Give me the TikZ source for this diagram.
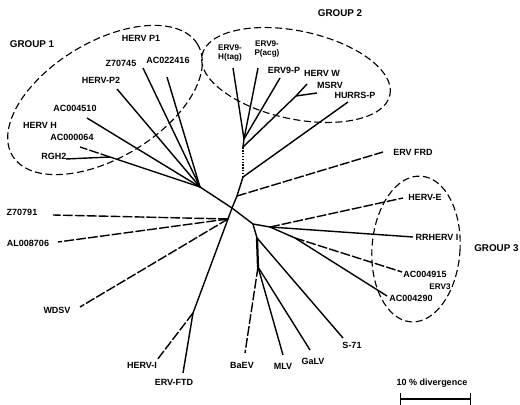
\documentclass[tikz,border=0pt]{standalone}
\usepackage{fontspec}
\setmainfont{Liberation Sans}
\usetikzlibrary{shapes.geometric}
\newcommand{\unitpx}{0.025cm}
\tikzset{
    branch/.style={line width=1pt},
    brokenbranch/.style={line width=1pt, dash pattern=on 7pt off 1.5pt},
    leaf/.style={inner sep=0pt, font=\fontsize{6.4}{7}\selectfont\bfseries},
    smallleaf/.style={inner sep=0pt, align=center, font=\fontsize{5.8}{6.2}\selectfont\bfseries},
    grouplabel/.style={inner sep=0pt, font=\fontsize{7}{8}\selectfont\bfseries},
    groupring/.style={ellipse, draw, line width=0.8pt, dash pattern=on 5pt off 2.5pt}
}

\begin{document}
\begin{tikzpicture}[x=\unitpx, y=-\unitpx]
\useasboundingbox (0,0) rectangle (520,405);

% the three groups
\node[groupring, minimum width=5.4cm, minimum height=2.9cm, rotate=31] (ring1) at (105,100) {};
\node[groupring, minimum width=4.8cm, minimum height=2.2cm, rotate=-12] (ring2) at (296,75) {};
\node[groupring, minimum width=2.2cm, minimum height=3.65cm, rotate=-4] (ring3) at (416,249) {};

\node[grouplabel] (grp1) at (32,44) {GROUP 1};
\node[grouplabel] (grp2) at (340,13) {GROUP 2};
\node[grouplabel, anchor=west] (grp3) at (474,248) {GROUP 3};

% inner points of the tree
\coordinate (root) at (232,208);
\coordinate (g1) at (200,187);
\coordinate (g1a) at (110,157);
\coordinate (t0) at (237,196);
\coordinate (t1) at (243,177);
\coordinate (t2) at (243,147);
\coordinate (t3) at (244,139);
\coordinate (t2a) at (296,96);
\coordinate (rb) at (253,224);
\coordinate (g3) at (270,227);
\coordinate (g3a) at (295,238);
\coordinate (m1) at (257,238);
\coordinate (m2) at (258,267);
\coordinate (lc) at (228,219);
\coordinate (lf) at (193,313);

% tips
\coordinate (tip-z70745) at (143,68);
\coordinate (tip-ac022416) at (167,77);
\coordinate (tip-hervp2) at (117,89);
\coordinate (tip-ac004510) at (87,118);
\coordinate (tip-ac000064) at (80,147);
\coordinate (tip-rgh2) at (66,159);
\coordinate (tip-frd) at (383,152);
\coordinate (tip-hurrs) at (348,102);
\coordinate (tip-hervw) at (307,84);
\coordinate (tip-msrv) at (317,93);
\coordinate (tip-erv9p) at (280,78);
\coordinate (tip-erv9acg) at (258,68);
\coordinate (tip-erv9tag) at (233,68);
\coordinate (tip-herve) at (403,198);
\coordinate (tip-rrherv) at (413,237);
\coordinate (tip-ac004915) at (402,272);
\coordinate (tip-ac004290) at (387,296);
\coordinate (tip-s71) at (343,338);
\coordinate (tip-baev) at (245,353);
\coordinate (tip-mlv) at (283,355);
\coordinate (tip-galv) at (310,350);
\coordinate (tip-z70791) at (53,215);
\coordinate (tip-al008706) at (58,242);
\coordinate (tip-wdsv) at (80,307);
\coordinate (tip-hervi) at (157,360);
\coordinate (tip-ervftd) at (183,373);

% labels
\node[leaf] (hervp1) at (141,38) {HERV P1};
\node[leaf] (z70745) at (121,63) {Z70745};
\node[leaf] (ac022416) at (168,60) {AC022416};
\node[leaf] (hervp2) at (101,80) {HERV-P2};
\node[leaf] (ac004510) at (75,108) {AC004510};
\node[leaf] (hervh) at (40,125) {HERV H};
\node[leaf] (ac000064) at (72,137) {AC000064};
\node[leaf] (rgh2) at (54,156) {RGH2};
\node[smallleaf] (erv9tag) at (230,53) {ERV9-\\H(tag)};
\node[smallleaf] (erv9acg) at (267,49) {ERV9-\\P(acg)};
\node[leaf] (erv9p) at (284,70) {ERV9-P};
\node[leaf] (hervw) at (322,73) {HERV W};
\node[leaf] (msrv) at (330,85) {MSRV};
\node[leaf] (hurrs) at (355,95) {HURRS-P};
\node[leaf] (frd) at (413,152) {ERV FRD};
\node[leaf] (herve) at (425,197) {HERV-E};
\node[leaf] (rrherv) at (437,237) {RRHERV I};
\node[leaf] (ac004915) at (425,274) {AC004915};
\node[smallleaf] (erv3) at (440,287) {ERV3};
\node[leaf] (ac004290) at (411,298) {AC004290};
\node[leaf] (z70791) at (22,212) {Z70791};
\node[leaf] (al008706) at (28,243) {AL008706};
\node[leaf] (wdsv) at (57,310) {WDSV};
\node[leaf] (hervi) at (142,365) {HERV-I};
\node[leaf] (ervftd) at (174,382) {ERV-FTD};
\node[leaf] (baev) at (242,365) {BaEV};
\node[leaf] (mlv) at (283,366) {MLV};
\node[leaf] (galv) at (313,361) {GaLV};
\node[leaf] (s71) at (352,345) {S-71};

% group 1
\draw[branch] (root) -- (g1);
\draw[branch] (g1) -- (tip-z70745);
\draw[branch] (g1) -- (tip-ac022416);
\draw[branch] (g1) -- (tip-hervp2);
\draw[branch] (g1) -- (tip-ac004510);
\draw[branch] (g1) -- (g1a);
\draw[brokenbranch] (g1a) -- (tip-ac000064);
\draw[branch] (g1a) -- (tip-rgh2);

% group 2
\draw[branch] (root) -- (t0) -- (t1);
\draw[branch, densely dotted] (t1) -- (t2);
\draw[branch] (t2) -- (t3);
\draw[brokenbranch] (t0) -- (tip-frd);
\draw[branch] (t1) -- (tip-hurrs);
\draw[branch] (t2) -- (t2a) -- (tip-hervw);
\draw[branch] (t2a) -- (tip-msrv);
\draw[branch] (t3) -- (tip-erv9p);
\draw[branch] (t3) -- (tip-erv9acg);
\draw[branch] (t3) -- (tip-erv9tag);

% group 3
\draw[branch] (root) -- (rb) -- (g3);
\draw[brokenbranch] (g3) -- (tip-herve);
\draw[branch] (g3) -- (tip-rrherv);
\draw[branch] (g3) -- (g3a);
\draw[brokenbranch] (g3a) -- (tip-ac004915);
\draw[branch] (g3a) -- (tip-ac004290);

% lower cluster
\draw[branch] (rb) -- (m1);
\draw[line width=1.6pt] (m1) -- (m2);
\draw[branch] (m1) -- (tip-s71);
\draw[brokenbranch] (m2) -- (tip-baev);
\draw[branch] (m2) -- (tip-mlv);
\draw[branch] (m2) -- (tip-galv);

% left cluster
\draw[branch] (root) -- (lc);
\draw[brokenbranch] (lc) -- (tip-z70791);
\draw[brokenbranch] (lc) -- (tip-al008706);
\draw[brokenbranch] (lc) -- (tip-wdsv);
\draw[branch] (lc) -- (lf) -- (tip-ervftd);
\draw[brokenbranch] (lf) -- (tip-hervi);

% scale
\node[leaf] (scaletext) at (432,383) {10 \% divergence};
\coordinate (barL) at (400,399);
\coordinate (barR) at (471,399);
\draw[line width=1pt, |-|] (barL) -- (barR);

\end{tikzpicture}
\end{document}
